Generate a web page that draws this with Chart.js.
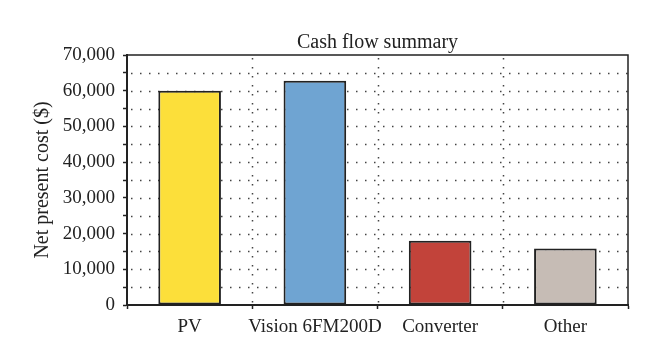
<!DOCTYPE html>
<html>
<head>
<meta charset="utf-8">
<script src="https://cdn.jsdelivr.net/npm/chart.js@4/dist/chart.umd.min.js"></script>
<style>
  html, body { margin: 0; padding: 0; background: #fff; }
  #wrap { width: 660px; height: 362px; }
</style>
</head>
<body>
<div id="wrap"><canvas id="chart" width="660" height="362"></canvas></div>
<script>
// Chart data
const categories = ['PV', 'Vision 6FM200D', 'Converter', 'Other'];
const netPresentCost = [60000, 62800, 18000, 15800];
const barColors = ['#fcdf3a', '#6fa4d2', '#c2433a', '#c6bcb5'];
const yMax = 70000;
const yStep = 5000;

const serif = "'Liberation Serif', 'DejaVu Serif', serif";

// Dotted grid (drawn from the scales) + frame on top/right edges
const dottedGrid = {
  id: 'dottedGrid',
  beforeDatasetsDraw(chart) {
    const { ctx, chartArea: a, scales } = chart;
    ctx.save();
    ctx.strokeStyle = '#444';
    ctx.lineWidth = 1.5;
    ctx.setLineDash([1.5, 7.5]);
    scales.y.ticks.forEach(t => {
      const y = Math.round(scales.y.getPixelForValue(t.value)) + 0.5;
      if (t.value <= 0 || t.value >= yMax) return;
      ctx.beginPath();
      ctx.moveTo(a.left + 4, y);
      ctx.lineTo(a.right, y);
      ctx.stroke();
    });
    for (let i = 1; i < categories.length; i++) {
      const x = Math.round(scales.x.getPixelForValue(i - 0.5)) + 0.5;
      ctx.beginPath();
      ctx.moveTo(x, a.top + 3);
      ctx.lineTo(x, a.bottom);
      ctx.stroke();
    }
    ctx.restore();
  },
  afterDraw(chart) {
    const { ctx, chartArea: a } = chart;
    ctx.save();
    ctx.strokeStyle = '#222';
    ctx.lineWidth = 1.5;
    ctx.beginPath();
    ctx.moveTo(a.left, a.top);
    ctx.lineTo(a.right, a.top);
    ctx.lineTo(a.right, a.bottom);
    ctx.stroke();
    ctx.restore();
  }
};

new Chart(document.getElementById('chart'), {
  type: 'bar',
  data: {
    labels: categories,
    datasets: [{
      label: 'Net present cost',
      data: netPresentCost,
      backgroundColor: barColors,
      borderColor: '#222',
      borderWidth: 2,
      borderSkipped: false,
      categoryPercentage: 1,
      barPercentage: 0.5
    }]
  },
  options: {
    responsive: false,
    animation: false,
    layout: { padding: { left: 0, right: 32, top: 0, bottom: 0 } },
    plugins: {
      legend: { display: false },
      tooltip: { enabled: false },
      title: {
        display: true,
        text: 'Cash flow summary',
        fullSize: false,
        color: '#222',
        font: { family: serif, size: 20, weight: 'normal' },
        padding: { top: 31, bottom: 0 }
      }
    },
    scales: {
      x: {
        afterFit(scale) { scale.height = 57; },
        grid: {
          offset: true,
          drawOnChartArea: false,
          tickColor: '#222',
          tickLength: 4,
          tickWidth: 1.5
        },
        border: { color: '#222', width: 2 },
        ticks: {
          color: '#222',
          padding: 7,
          maxRotation: 0,
          autoSkip: false,
          font: { family: serif, size: 19 }
        }
      },
      y: {
        min: 0,
        max: yMax,
        afterFit(scale) { scale.width = 127; },
        grid: {
          drawOnChartArea: false,
          tickColor: '#222',
          tickLength: 4,
          tickWidth: 1.5
        },
        border: { color: '#222', width: 2 },
        ticks: {
          stepSize: yStep,
          autoSkip: false,
          color: '#222',
          padding: 8,
          font: { family: serif, size: 19 },
          callback: v => (v % 10000 === 0 ? v.toLocaleString('en-US') : '')
        },
        title: {
          display: true,
          text: 'Net present cost ($)',
          color: '#222',
          font: { family: serif, size: 20 },
          padding: { top: 31, bottom: 0 }
        }
      }
    }
  },
  plugins: [dottedGrid]
});
</script>
</body>
</html>
